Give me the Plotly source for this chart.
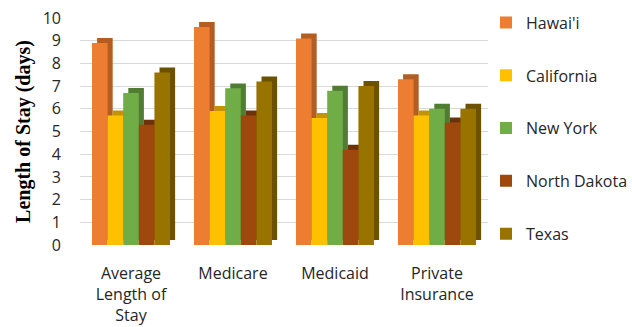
import plotly.graph_objects as go

categories = ["Average<br>Length of<br>Stay", "Medicare", "Medicaid", "Private<br>Insurance"]
states = ["Hawai'i", "California", "New York", "North Dakota", "Texas"]
hawaii = [8.9, 9.6, 9.1, 7.3]
california = [5.7, 5.9, 5.6, 5.7]
new_york = [6.7, 6.9, 6.8, 6.0]
north_dakota = [5.3, 5.7, 4.2, 5.4]
texas = [7.6, 7.2, 7.0, 6.0]
series = [hawaii, california, new_york, north_dakota, texas]

front_colors = ["#ED7D31", "#FFC000", "#70AD47", "#9E480E", "#997300"]
side_colors = ["#B35D22", "#C49300", "#507D32", "#6E320A", "#6B5100"]
y_ticks = list(range(0, 11))

bar_w = 0.153
group_w = bar_w * len(states)
depth_x = 0.05
depth_y = 0.22

fig = go.Figure()
for i, (name, vals) in enumerate(zip(states, series)):
    off = -group_w / 2 + i * bar_w
    fig.add_trace(go.Bar(
        x=categories, y=vals, base=[depth_y] * len(vals),
        offset=off + depth_x, width=bar_w,
        marker=dict(color=side_colors[i], line=dict(width=0)),
        showlegend=False, hoverinfo="skip", legendgroup=name,
    ))
    fig.add_trace(go.Bar(
        x=categories, y=vals, name=name,
        offset=off, width=bar_w,
        marker=dict(color=front_colors[i], line=dict(width=0)),
        legendgroup=name,
    ))

fig.update_layout(
    width=632, height=327,
    margin=dict(l=80, r=144, t=18, b=82, autoexpand=False),
    barmode="overlay",
    plot_bgcolor="white", paper_bgcolor="white",
    font=dict(family="Open Sans", size=16, color="#262626"),
    legend=dict(
        xref="container", yref="container",
        x=0.769, y=0.983, xanchor="left", yanchor="top",
        font=dict(family="Open Sans", size=16, color="#262626"),
        tracegroupgap=29, itemwidth=30, bgcolor="rgba(0,0,0,0)",
        maxheight=320,
    ),
    xaxis=dict(
        showgrid=False, zeroline=False, showline=False, ticks="",
        tickfont=dict(family="Open Sans", size=16, color="#262626"),
        ticklabelstandoff=17, automargin=False,
    ),
    yaxis=dict(
        range=[0, 10], tickvals=y_ticks, showgrid=True, gridcolor="#D9D9D9",
        gridwidth=1, zeroline=False, showline=False, ticks="",
        tickfont=dict(family="Open Sans", size=16, color="#262626"),
        ticklabelstandoff=18, automargin=False,
        title=dict(text="<b>Length of Stay (days)</b>",
                   font=dict(family="Liberation Serif", size=20, color="black"),
                   standoff=6),
    ),
)

fig.write_html("out.html")
